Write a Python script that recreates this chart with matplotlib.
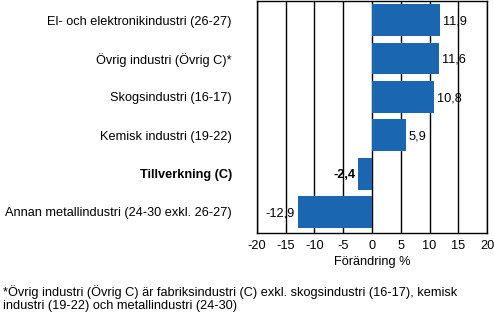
import matplotlib.pyplot as plt

categories = [
    "El- och elektronikindustri (26-27)",
    "Övrig industri (Övrig C)*",
    "Skogsindustri (16-17)",
    "Kemisk industri (19-22)",
    "Tillverkning (C)",
    "Annan metallindustri (24-30 exkl. 26-27)",
]
values = [11.9, 11.6, 10.8, 5.9, -2.4, -12.9]
bold_rows = [False, False, False, False, True, False]
xticks = [-20, -15, -10, -5, 0, 5, 10, 15, 20]

plt.rcParams['font.family'] = ['Liberation Sans', 'DejaVu Sans']
plt.rcParams['font.size'] = 9.2

fig = plt.figure(figsize=(4.94, 3.15), dpi=100)
ax = fig.add_axes([0.520, 0.260, 0.466, 0.737])

y = list(range(len(categories)))[::-1]
ax.barh(y, values, height=0.83, color='#1a66b0', zorder=3)

for yi, v, b in zip(y, values, bold_rows):
    txt = f"{v:.1f}".replace('.', ',')
    w = 'bold' if b else 'normal'
    if v >= 0:
        ax.annotate(txt, (v, yi), xytext=(2, -1), textcoords='offset points',
                    ha='left', va='center', fontweight=w)
    else:
        ax.annotate(txt, (v, yi), xytext=(-2, -1), textcoords='offset points',
                    ha='right', va='center', fontweight=w)

ax.set_xlim(-20, 20)
ax.set_ylim(-0.55, 5.5)
ax.set_xticks(xticks)
ax.set_xticklabels([str(t) for t in xticks])
ax.set_yticks(y)
ax.set_yticklabels(categories)
for lab, b in zip(ax.get_yticklabels(), bold_rows):
    if b:
        lab.set_fontweight('bold')
ax.tick_params(axis='both', length=0)
ax.tick_params(axis='y', pad=18)
ax.tick_params(axis='x', pad=5)
ax.grid(axis='x', color='black', linewidth=1, zorder=0)
for s in ax.spines.values():
    s.set_color('black')
    s.set_linewidth(1)
ax.set_xlabel('Förändring %', labelpad=3)

fig.text(0.006, 0.008,
         "*Övrig industri (Övrig C) är fabriksindustri (C) exkl. skogsindustri (16-17), kemisk\n"
         "industri (19-22) och metallindustri (24-30)",
         ha='left', va='bottom', linespacing=1.12)

fig.savefig('out.png', dpi=100)
